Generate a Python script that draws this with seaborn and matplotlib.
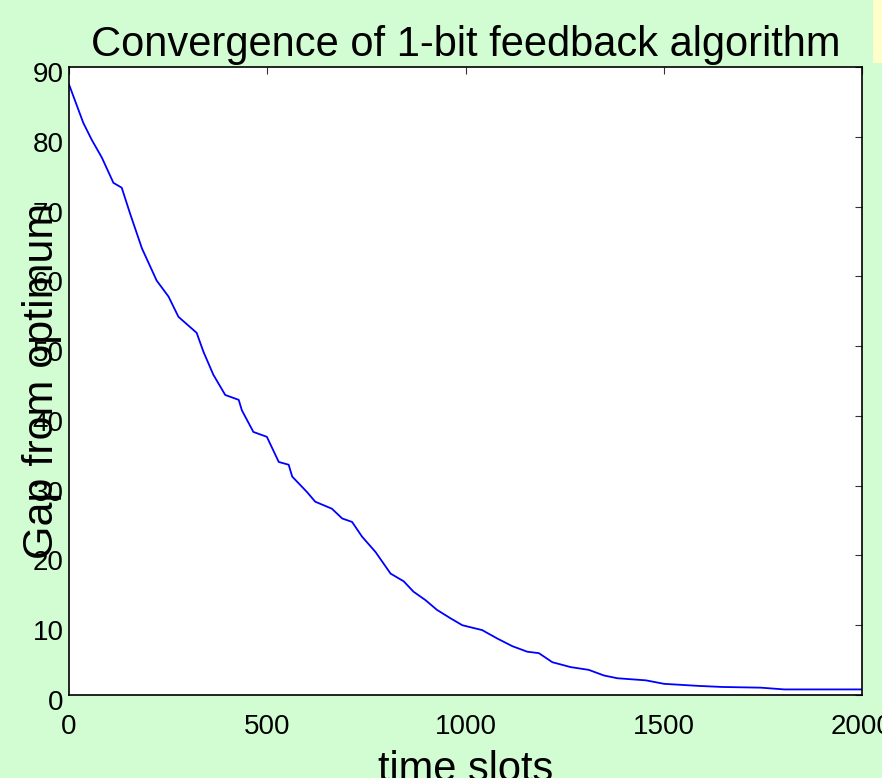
import numpy as np
import pandas as pd
import seaborn as sns
import matplotlib.pyplot as plt
from matplotlib.patches import Rectangle
from matplotlib.transforms import ScaledTranslation

# Values
time_slots = [0, 36, 57, 83, 112, 133, 154, 184, 221, 251, 276, 322, 339, 364,
              394, 428, 436, 465, 499, 529, 554, 563, 600, 621, 663, 689, 714,
              739, 773, 811, 844, 869, 899, 928, 962, 992, 1042, 1080, 1118,
              1156, 1185, 1219, 1265, 1311, 1349, 1383, 1455, 1501, 1589, 1648,
              1745, 1804, 2000]
gap = [87.5, 82.0, 79.6, 77.0, 73.4, 72.7, 69.0, 64.0, 59.4, 57.1, 54.2, 51.9,
       49.2, 45.9, 43.0, 42.3, 40.8, 37.7, 37.0, 33.4, 33.0, 31.3, 29.1, 27.7,
       26.7, 25.3, 24.8, 22.7, 20.5, 17.4, 16.3, 14.8, 13.6, 12.2, 11.0, 10.0,
       9.3, 8.1, 7.0, 6.2, 6.0, 4.7, 4.0, 3.6, 2.8, 2.4, 2.1, 1.6, 1.3, 1.15,
       1.05, 0.8, 0.8]

x_ticks = [0, 500, 1000, 1500, 2000]
y_ticks = [0, 10, 20, 30, 40, 50, 60, 70, 80, 90]

df = pd.DataFrame({'time slots': time_slots, 'gap': gap})

sns.set_style('white')
plt.rcParams['font.family'] = ['Liberation Sans', 'DejaVu Sans']
plt.rcParams['text.color'] = 'black'
plt.rcParams['axes.labelcolor'] = 'black'
plt.rcParams['xtick.color'] = 'black'
plt.rcParams['ytick.color'] = 'black'

bg = '#d2fdd2'
fig = plt.figure(figsize=(8.82, 7.78), dpi=100, facecolor=bg)
ax = fig.add_axes([69 / 882, 1 - 695 / 778, 793 / 882, 628 / 778])
ax.set_facecolor('white')

# pale yellow strip in the top right corner
fig.patches.append(Rectangle((873 / 882, 1 - 63 / 778), 9 / 882, 63 / 778,
                             transform=fig.transFigure, facecolor='#ffffcc',
                             edgecolor='none', zorder=0))

sns.lineplot(data=df, x='time slots', y='gap', color='#0000ff', linewidth=1.3,
             ax=ax)

ax.set_xlim(0, 2000)
ax.set_ylim(0, 90)
ax.set_xticks(x_ticks)
ax.set_yticks(y_ticks)
ax.set_xticklabels([str(t) for t in x_ticks])
ax.set_yticklabels([str(t) for t in y_ticks])

ax.tick_params(axis='both', direction='in', length=5, width=0.8, color='#333333',
               labelcolor='black', labelsize=20, top=True, right=True)
ax.tick_params(axis='x', pad=14)
ax.tick_params(axis='y', pad=4)
for lab in ax.get_yticklabels():
    lab.set_transform(lab.get_transform() +
                      ScaledTranslation(0, -5 / 100, fig.dpi_scale_trans))

for spine in ax.spines.values():
    spine.set_color('black')
    spine.set_linewidth(1.2)

ax.set_title('Convergence of 1-bit feedback algorithm', fontsize=30, pad=8,
             color='black')
ax.set_xlabel('time slots', fontsize=30, va='baseline', color='black')
ax.xaxis.set_label_coords(0.5, -0.137)
ax.set_ylabel('Gap from optimum', fontsize=31, va='baseline', color='black')
ax.yaxis.set_label_coords(-0.020, 0.5)

fig.savefig('out.png', dpi=100, facecolor=bg)
